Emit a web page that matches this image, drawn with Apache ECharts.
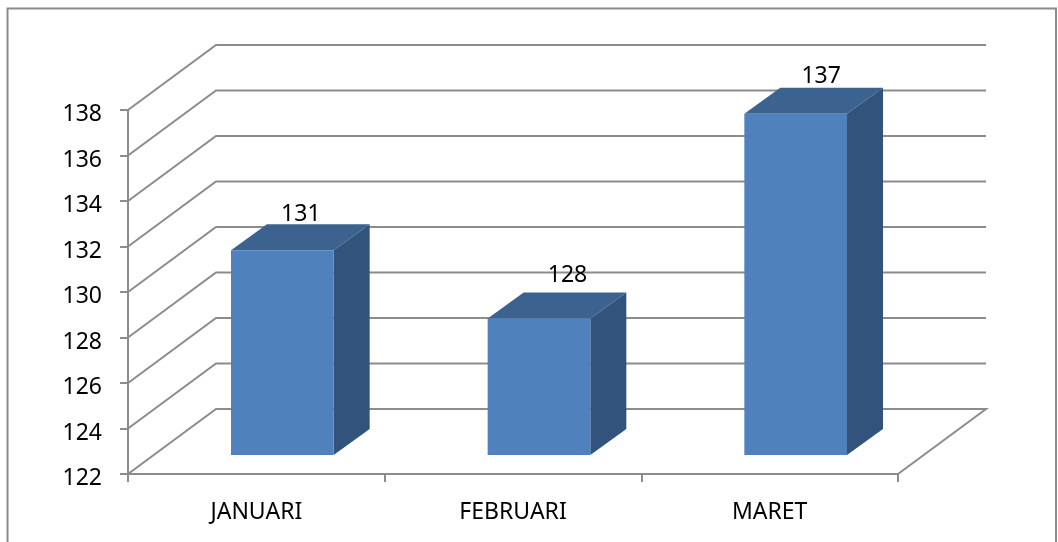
<!DOCTYPE html>
<html>
<head>
<meta charset="utf-8">
<style>
  html, body { margin: 0; padding: 0; background: #fff; }
  #chart { width: 1058px; height: 542px; }
</style>
<script src="https://cdn.jsdelivr.net/npm/echarts@6/dist/echarts.min.js"></script>
</head>
<body>
<div id="chart"></div>
<script>
// data
var months = ['JANUARI', 'FEBRUARI', 'MARET'];
var totals = [131, 128, 137];
var yTicks = [122, 124, 126, 128, 130, 132, 134, 136, 138];

var yMin = 122;
var yMax = 138;
var lineColor = '#8c8c8c';
var fontName = '"Noto Sans", sans-serif';

// fake 3d depth, in pixels
var wallDx = 88, wallDy = -65;
var barDx = 26, barDy = -19;
var depthDx = 36, depthDy = -26;
// labels in the original do not sit at one fixed spot over the bars
var labelShift = [[19, -36], [29, -43], [26, -37]];

function renderWall(params, api) {
  var v = api.value(0);
  var x0 = api.coord([0, v])[0] - api.size([1, 0])[0] / 2;
  var y = api.coord([0, v])[1];
  var x1 = x0 + api.size([1, 0])[0] * months.length;
  var pts = [[x0, y], [x0 + wallDx, y + wallDy], [x1 + wallDx, y + wallDy]];
  if (v === yMin) {
    pts.push([x1, y]);
  }
  return {
    type: 'polyline',
    shape: { points: pts },
    style: { fill: 'none', stroke: lineColor, lineWidth: 2 }
  };
}

function renderBar(params, api) {
  var i = api.value(0);
  var top = api.coord([i, api.value(1)]);
  var base = api.coord([i, yMin]);
  var w = api.size([1, 0])[0] * 0.4;
  var l = top[0] - w / 2 + barDx;
  var r = l + w;
  var t = top[1] + barDy;
  var b = base[1] + barDy;
  return {
    type: 'group',
    children: [
      {
        type: 'polygon',
        shape: { points: [[r, t], [r + depthDx, t + depthDy], [r + depthDx, b + depthDy], [r, b]] },
        style: { fill: '#32547c' }
      },
      {
        type: 'polygon',
        shape: { points: [[l, t], [l + depthDx, t + depthDy], [r + depthDx, t + depthDy], [r, t]] },
        style: { fill: '#3c638f' }
      },
      {
        type: 'rect',
        shape: { x: l, y: t, width: w, height: b - t },
        style: { fill: '#4f81bd' }
      },
      {
        type: 'text',
        style: {
          x: (l + r) / 2 + labelShift[i][0] - 0.5,
          y: t + labelShift[i][1],
          text: String(api.value(1)),
          fill: '#000',
          font: '23px ' + fontName,
          align: 'center',
          verticalAlign: 'middle'
        }
      }
    ]
  };
}

var myChart = echarts.init(document.getElementById('chart'));
var option = {
  animation: false,
  backgroundColor: '#fff',
  graphic: [
    {
      type: 'polyline',
      shape: { points: [[7.5, 560], [7.5, 8.5], [1056, 8.5], [1056, 560]] },
      style: { fill: 'none', stroke: '#8c8c8c', lineWidth: 2 },
      silent: true
    }
  ],
  grid: { left: 128, right: 160, top: 110, bottom: 68 },
  xAxis: {
    type: 'category',
    data: months,
    axisLine: { lineStyle: { color: lineColor, width: 2 } },
    axisTick: { show: true, length: 8, lineStyle: { color: lineColor, width: 2 } },
    axisLabel: { color: '#000', fontFamily: fontName, fontSize: 23, margin: 27 },
    splitLine: { show: false }
  },
  yAxis: {
    type: 'value',
    min: yMin,
    max: yMax,
    interval: 2,
    axisLine: { show: true, lineStyle: { color: lineColor, width: 2 } },
    axisTick: { show: true, length: 8, lineStyle: { color: lineColor, width: 2 } },
    axisLabel: {
      color: '#000',
      fontFamily: fontName,
      fontSize: 23,
      margin: 26,
      formatter: '{n|{value}}',
      rich: { n: { fontFamily: fontName, fontSize: 23, color: '#000', padding: [9, 0, 0, 0] } }
    },
    splitLine: { show: false }
  },
  series: [
    {
      type: 'custom',
      name: 'dinding',
      renderItem: renderWall,
      data: yTicks.map(function (v) { return [v]; }),
      encode: { y: 0 },
      clip: false,
      silent: true,
      z: 1
    },
    {
      type: 'custom',
      name: 'jumlah',
      renderItem: renderBar,
      data: totals.map(function (v, i) { return [i, v]; }),
      encode: { x: 0, y: 1 },
      clip: false,
      z: 2
    }
  ]
};
option && myChart.setOption(option);
</script>
</body>
</html>
